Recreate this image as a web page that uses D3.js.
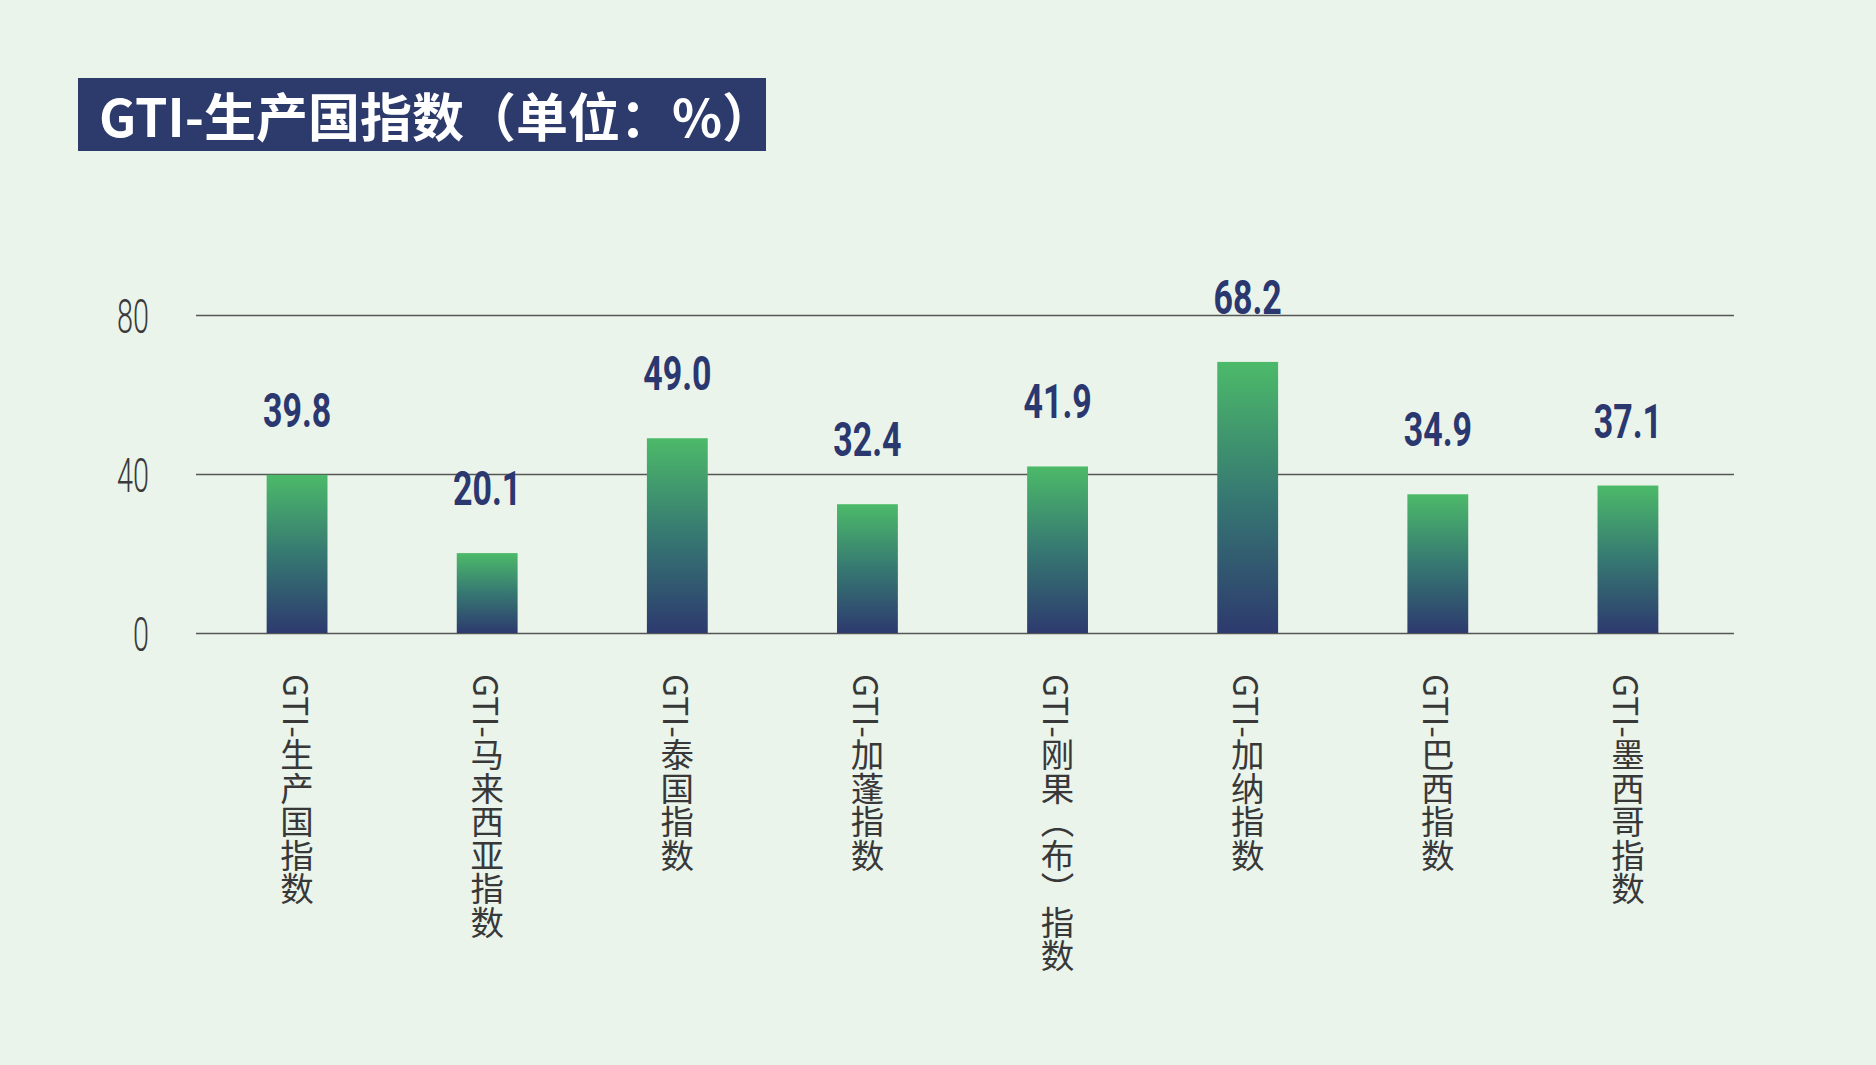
<!DOCTYPE html>
<html>
<head>
<meta charset="utf-8">
<script src="https://cdn.jsdelivr.net/npm/d3@7"></script>
<style>
html,body{margin:0;padding:0;background:#eaf4eb;}
svg{display:block;}
</style>
</head>
<body>
<svg id="chart" width="1876" height="1065"></svg>
<script>
const title = "GTI-生产国指数（单位：%）";
const categories = ["GTI-生产国指数","GTI-马来西亚指数","GTI-泰国指数","GTI-加蓬指数","GTI-刚果（布）指数","GTI-加纳指数","GTI-巴西指数","GTI-墨西哥指数"];
const values = [39.8, 20.1, 49.0, 32.4, 41.9, 68.2, 34.9, 37.1];
const yTicks = [0, 40, 80];

const svg = d3.select("#chart");
svg.append("rect").attr("width",1876).attr("height",1065).attr("fill","#eaf4eb");

// title
svg.append("rect").attr("x",78).attr("y",78).attr("width",688).attr("height",73).attr("fill","#2c3a6c");
svg.append("text").attr("x",99).attr("y",114.5)
  .attr("dominant-baseline","central")
  .attr("font-family","'Noto Sans CJK SC','Noto Sans',sans-serif")
  .attr("font-weight",700).attr("font-size",52).attr("fill","#ffffff")
  .text(title);

const gridLeft = 196, gridRight = 1734;
const y = d3.scaleLinear().domain([0,80]).range([633,315]);
const x = d3.scaleBand().domain(categories).range([202,1723]).paddingInner(0.68).paddingOuter(0.34);

// gradient
const defs = svg.append("defs");
const grad = defs.append("linearGradient").attr("id","barGrad").attr("x1",0).attr("y1",0).attr("x2",0).attr("y2",1);
grad.append("stop").attr("offset","0%").attr("stop-color","#4cba69");
grad.append("stop").attr("offset","50%").attr("stop-color","#367872");
grad.append("stop").attr("offset","100%").attr("stop-color","#2d3a6e");

// y axis with gridlines
const yAxis = svg.append("g").attr("transform",`translate(${gridLeft},0)`)
  .call(d3.axisLeft(y).tickValues(yTicks).tickSize(-(gridRight-gridLeft)).tickPadding(0));
yAxis.select(".domain").remove();
yAxis.selectAll(".tick line").attr("stroke","#555555").attr("stroke-width",1.6);
yAxis.selectAll(".tick text")
  .attr("x",0).attr("dy","0.36em")
  .attr("transform","translate(-47,0) scale(0.6,1)")
  .attr("font-family","Roboto, 'DejaVu Sans', sans-serif")
  .attr("font-weight",300).attr("font-size",48).attr("fill","#3a3a3a");

// bars
svg.append("g").selectAll("rect").data(values).join("rect")
  .attr("x",(d,i)=>x(categories[i]))
  .attr("width",x.bandwidth())
  .attr("y",d=>y(d))
  .attr("height",d=>y(0)-y(d))
  .attr("fill","url(#barGrad)");

// value labels
svg.append("g").selectAll("text").data(values).join("text")
  .attr("transform",(d,i)=>`translate(${x(categories[i])+x.bandwidth()/2},${y(d)-48}) scale(0.7,1)`)
  .attr("text-anchor","middle")
  .attr("font-family","Roboto, 'DejaVu Sans', sans-serif")
  .attr("font-weight",700).attr("font-size",48.5).attr("fill","#2b3870")
  .text(d=>d.toFixed(1));

// x axis labels
const xAxis = svg.append("g").attr("transform",`translate(0,${y(0)})`)
  .call(d3.axisBottom(x).tickSize(0).tickPadding(0));
xAxis.select(".domain").remove();
xAxis.selectAll(".tick text")
  .attr("x",0).attr("y",41).attr("dy",0)
  .attr("text-anchor","start")
  .style("writing-mode","vertical-rl")
  .attr("font-family","'Noto Sans CJK SC','Noto Sans',sans-serif")
  .attr("font-weight",400).attr("font-size",33.5).attr("fill","#383838");
</script>
</body>
</html>
